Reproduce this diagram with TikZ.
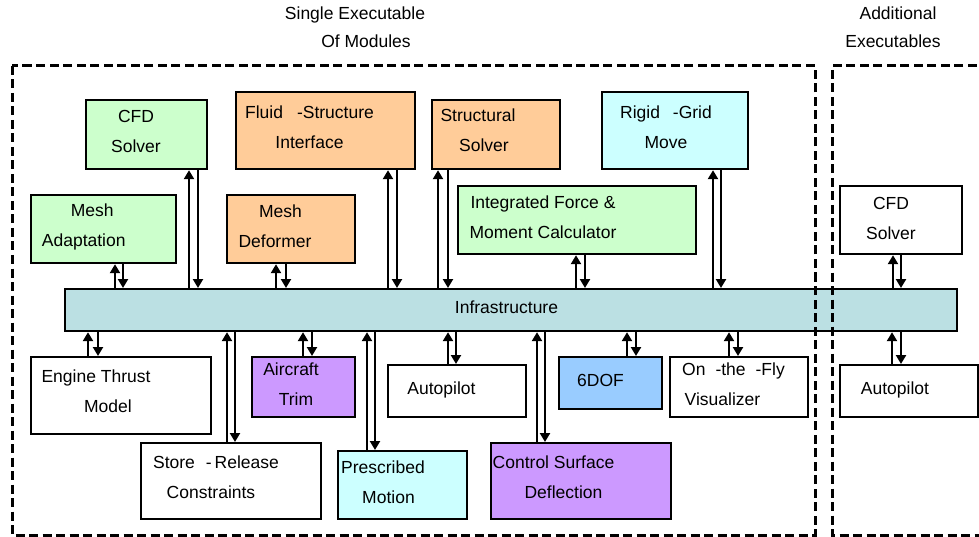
\documentclass[tikz,border=0pt]{standalone}
\usepackage{fontspec}
\setmainfont{Liberation Sans}
\usetikzlibrary{arrows.meta}
\definecolor{cgreen}{HTML}{CCFFCC}
\definecolor{corange}{HTML}{FFCC99}
\definecolor{ccyan}{HTML}{CCFFFF}
\definecolor{cpurple}{HTML}{CC99FF}
\definecolor{cblue}{HTML}{99CCFF}
\definecolor{cbar}{HTML}{BBE0E3}
\newcommand\shiftln[2]{\hspace*{#1}#2\hspace*{-#1}}
\tikzset{
  box/.style={draw=black, line width=2.2pt, inner sep=0pt, anchor=north west},
  txt/.style={font=\fontsize{17.5}{30}\selectfont, align=center, inner sep=0pt},
  ltxt/.style={font=\fontsize{17.5}{30}\selectfont, inner sep=0pt, anchor=base},
  arr/.style={line width=2.8pt, -{Triangle[width=10pt,length=9pt]}},
  dashbox/.style={line width=3pt, dash pattern=on 9pt off 4.5pt}
}
\begin{document}
\begin{tikzpicture}[x=1pt,y=-1pt]
\useasboundingbox (0,0) rectangle (979,537);
\clip (0,0) rectangle (979,537);
% titles
\node[ltxt] (t1) at (355,20) {Single Executable};
\node[ltxt] (t2) at (366,48) {Of Modules};
\node[ltxt] (t3) at (898,20) {Additional};
\node[ltxt] (t4) at (893,48) {Executables};
% bar
\node[box, fill=cbar, minimum width=892pt, minimum height=42pt] (bar) at (64,288) {};
\node[ltxt] (barT) at (506.5,313) {Infrastructure};
% top boxes
\node[box, fill=cgreen, minimum width=121pt, minimum height=69pt] (cfd) at (85,99) {};
\node[txt] (cfdT) at (136,131) {CFD\\Solver};
\node[box, fill=cgreen, minimum width=145pt, minimum height=68pt] (meshA) at (30,194) {};
\node[txt] (meshAT) at (88,227) {\shiftln{4.25pt}{Mesh}\\\shiftln{-4.25pt}{Adaptation}};
\node[box, fill=corange, minimum width=179pt, minimum height=77pt] (fsi) at (235,91) {};
\node[txt] (fsiT) at (309.5,127.5) {Fluid\hspace{14pt}-Structure\\Interface};
\node[box, fill=corange, minimum width=128pt, minimum height=68pt] (meshD) at (226,194) {};
\node[txt] (meshDT) at (277.75,226) {\shiftln{2.75pt}{Mesh}\\\shiftln{-2.75pt}{Deformer}};
\node[box, fill=corange, minimum width=128pt, minimum height=69pt] (struct) at (431,99) {};
\node[txt] (structT) at (481,130) {\shiftln{-3pt}{Structural}\\\shiftln{3pt}{Solver}};
\node[box, fill=cgreen, minimum width=238pt, minimum height=68pt] (intg) at (457,185) {};
\node[txt] (intgT) at (543,217) {Integrated Force \&\\Moment Calculator};
\node[box, fill=ccyan, minimum width=146pt, minimum height=77pt] (rigid) at (601,91) {};
\node[txt] (rigidT) at (666,127.5) {Rigid\hspace{13pt}-Grid\\Move};
\node[box, fill=white, minimum width=122pt, minimum height=68pt] (cfdR) at (839,185) {};
\node[txt] (cfdRT) at (891,218) {CFD\\Solver};
% bottom boxes
\node[box, fill=white, minimum width=180pt, minimum height=77pt] (engine) at (30,356) {};
\node[txt] (engineT) at (102,391.5) {\shiftln{-6pt}{Engine Thrust}\\\shiftln{6pt}{Model}};
\node[box, fill=white, minimum width=180pt, minimum height=76pt] (store) at (140,442) {};
\node[txt] (storeT) at (213.5,477.5) {\shiftln{2.5pt}{Store\hspace{11pt}-\,Release}\\\shiftln{-2.5pt}{Constraints}};
\node[box, fill=cpurple, minimum width=103pt, minimum height=60pt] (trim) at (251,356) {};
\node[txt] (trimT) at (293.5,384) {\shiftln{-2.5pt}{Aircraft}\\\shiftln{2.5pt}{Trim}};
\node[box, fill=white, minimum width=138pt, minimum height=52pt] (auto) at (387,364) {};
\node[ltxt] (autoT) at (441.5,394) {Autopilot};
\node[box, fill=cblue, minimum width=103pt, minimum height=52pt] (dof) at (558,356) {};
\node[ltxt] (dofT) at (600.5,386) {6DOF};
\node[box, fill=white, minimum width=138pt, minimum height=60pt] (fly) at (669,356) {};
\node[txt] (flyT) at (728,384.5) {\shiftln{5.5pt}{On\hspace{10pt}-the\hspace{10pt}-Fly}\\\shiftln{-5.5pt}{Visualizer}};
\node[box, fill=ccyan, minimum width=129pt, minimum height=68pt] (presc) at (337,450) {};
\node[txt] (prescT) at (385.75,482.5) {\shiftln{-2.75pt}{Prescribed}\\\shiftln{2.75pt}{Motion}};
\node[box, fill=cpurple, minimum width=180pt, minimum height=76pt] (ctrl) at (490,442) {};
\node[txt] (ctrlT) at (558.5,477) {\shiftln{-5pt}{Control Surface}\\\shiftln{5pt}{Deflection}};
\node[box, fill=white, minimum width=138pt, minimum height=52pt] (autoR) at (839,364) {};
\node[ltxt] (autoRT) at (895,394) {Autopilot};
% dashed groups
\draw[dashbox] (12,66) rectangle (815,535);
\draw[dashbox] (990,66) -- (832,66) -- (832,535) -- (990,535);
% connectors above the bar
\foreach \n/\a/\b in {meshA/115/123, cfd/189/198, meshD/276/286, fsi/388/397, struct/438/448, intg/576/585, rigid/713/721, cfdR/893/901}{
  \draw[arr] (bar.north -| \a,0) -- (\n.south -| \a,0);
  \draw[arr] (\n.south -| \b,0) -- (bar.north -| \b,0);
}
% connectors below the bar
\foreach \n/\a/\b in {engine/88/98, store/227/235, trim/303/312, presc/367/375, auto/448/456, ctrl/537/545, dof/627/636, fly/729/738, autoR/892/901}{
  \draw[arr] (\n.north -| \a,0) -- (bar.south -| \a,0);
  \draw[arr] (bar.south -| \b,0) -- (\n.north -| \b,0);
}
\end{tikzpicture}
\end{document}
